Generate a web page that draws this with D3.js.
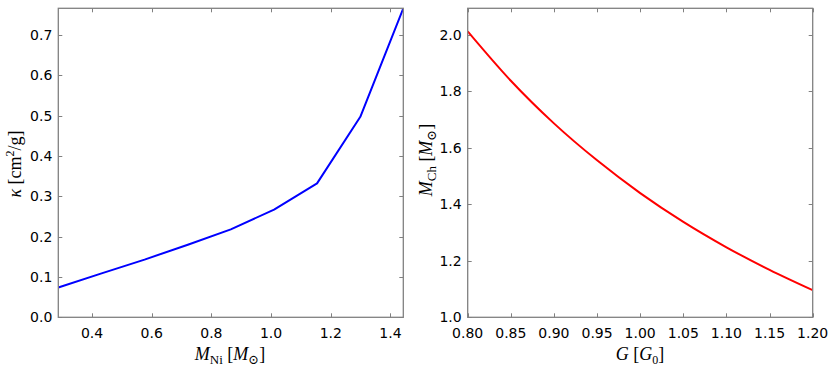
<!DOCTYPE html>
<html>
<head>
<meta charset="utf-8">
<script src="https://cdn.jsdelivr.net/npm/d3@7"></script>
<style>
  body { margin: 0; background: #fff; }
  svg { display: block; }
</style>
</head>
<body>
<div id="chart"></div>
<script>
// left panel: opacity vs nickel mass
const nickelMass = [0.287, 0.432, 0.576, 0.721, 0.865, 1.010, 1.154, 1.299, 1.443];
const opacity = [0.074, 0.109, 0.143, 0.180, 0.218, 0.267, 0.332, 0.497, 0.766];
const nickelTicks = [0.4, 0.6, 0.8, 1.0, 1.2, 1.4];
const opacityTicks = [0.0, 0.1, 0.2, 0.3, 0.4, 0.5, 0.6, 0.7];

// right panel: Chandrasekhar mass vs G
const gravity = [0.80, 0.85, 0.90, 0.95, 1.00, 1.05, 1.10, 1.15, 1.20];
const chandraMass = [2.013, 1.838, 1.687, 1.556, 1.440, 1.338, 1.248, 1.168, 1.096];
const gravityTicks = [0.80, 0.85, 0.90, 0.95, 1.00, 1.05, 1.10, 1.15, 1.20];
const chandraTicks = [1.0, 1.2, 1.4, 1.6, 1.8, 2.0];

const WIDTH = 830;
const HEIGHT = 367;
const PLOT_TOP = 8.3;
const PLOT_BOTTOM = 317.3;
const TICK_LEN = 4;
const SPINE_COLOR = '#808080';
const TICK_FONT = '"DejaVu Sans", sans-serif';
const LABEL_FONT = '"Liberation Serif", "DejaVu Serif", serif';

const svg = d3.select('#chart')
  .append('svg')
  .attr('width', WIDTH)
  .attr('height', HEIGHT);

function drawPanel(opts) {
  const x = d3.scaleLinear().domain(opts.xDomain).range([opts.left, opts.right]);
  const y = d3.scaleLinear().domain(opts.yDomain).range([PLOT_BOTTOM, PLOT_TOP]);
  const g = svg.append('g');

  // inward ticks on all four sides
  const ticks = g.append('g').attr('stroke', SPINE_COLOR).attr('stroke-width', 1);
  opts.xTicks.forEach((t) => {
    const px = Math.round(x(t)) + 0.5;
    ticks.append('line').attr('x1', px).attr('x2', px).attr('y1', PLOT_BOTTOM).attr('y2', PLOT_BOTTOM - TICK_LEN);
    ticks.append('line').attr('x1', px).attr('x2', px).attr('y1', PLOT_TOP).attr('y2', PLOT_TOP + TICK_LEN);
  });
  opts.yTicks.forEach((t) => {
    const py = Math.round(y(t)) + 0.5;
    ticks.append('line').attr('x1', opts.left).attr('x2', opts.left + TICK_LEN).attr('y1', py).attr('y2', py);
    ticks.append('line').attr('x1', opts.right).attr('x2', opts.right - TICK_LEN).attr('y1', py).attr('y2', py);
  });

  // data line
  const clipId = 'clip-' + opts.id;
  g.append('clipPath').attr('id', clipId)
    .append('rect')
    .attr('x', opts.left).attr('y', PLOT_TOP - 1)
    .attr('width', opts.right - opts.left).attr('height', PLOT_BOTTOM - PLOT_TOP + 2);

  const line = d3.line()
    .x((d) => x(d[0]))
    .y((d) => y(d[1]))
    .curve(opts.curve);

  g.append('path')
    .datum(d3.zip(opts.xs, opts.ys))
    .attr('clip-path', `url(#${clipId})`)
    .attr('fill', 'none')
    .attr('stroke', opts.color)
    .attr('stroke-width', 2)
    .attr('stroke-linejoin', 'round')
    .attr('d', line);

  // frame
  g.append('rect')
    .attr('x', opts.left).attr('y', PLOT_TOP)
    .attr('width', opts.right - opts.left).attr('height', PLOT_BOTTOM - PLOT_TOP)
    .attr('fill', 'none')
    .attr('stroke', SPINE_COLOR)
    .attr('stroke-width', 1.3);

  // tick labels
  opts.xTicks.forEach((t) => {
    g.append('text')
      .attr('x', x(t))
      .attr('y', PLOT_BOTTOM + 21)
      .attr('text-anchor', 'middle')
      .attr('font-family', TICK_FONT)
      .attr('font-size', 14)
      .attr('fill', '#000')
      .text(opts.xFormat(t));
  });
  opts.yTicks.forEach((t) => {
    g.append('text')
      .attr('x', opts.left - 6)
      .attr('y', y(t) + 5)
      .attr('text-anchor', 'end')
      .attr('font-family', TICK_FONT)
      .attr('font-size', 14)
      .attr('fill', '#000')
      .text(opts.yFormat(t));
  });

  return g;
}

function addParts(textSel, parts) {
  parts.forEach((p) => {
    const ts = textSel.append('tspan').text(p.t);
    if (p.italic) ts.attr('font-style', 'italic');
    if (p.size) ts.attr('font-size', p.size);
    if (p.dy) ts.attr('dy', p.dy);
  });
}

// left panel
const left = drawPanel({
  id: 'left',
  left: 58.3, right: 403.3,
  xDomain: [0.287, 1.443], yDomain: [0, 0.766],
  xTicks: nickelTicks, yTicks: opacityTicks,
  xFormat: d3.format('.1f'), yFormat: d3.format('.1f'),
  xs: nickelMass, ys: opacity,
  color: '#0000ff', curve: d3.curveLinear,
});

const xLabelL = left.append('text')
  .attr('x', 230).attr('y', 360)
  .attr('text-anchor', 'middle')
  .attr('font-family', LABEL_FONT)
  .attr('font-size', 18);
addParts(xLabelL, [
  { t: 'M', italic: true },
  { t: 'Ni', size: 13, dy: 4 },
  { t: ' [', dy: -4 },
  { t: 'M', italic: true },
  { t: '\u2299', size: 13, dy: 4 },
  { t: ']', dy: -4 },
]);

const yLabelL = left.append('text')
  .attr('transform', 'translate(21,164) rotate(-90)')
  .attr('text-anchor', 'middle')
  .attr('font-family', LABEL_FONT)
  .attr('font-size', 18);
addParts(yLabelL, [
  { t: '\u03ba', italic: true },
  { t: ' [cm' },
  { t: '2', size: 12, dy: -7 },
  { t: '/g]', dy: 7 },
]);

// right panel
const right = drawPanel({
  id: 'right',
  left: 467.7, right: 812.7,
  xDomain: [0.8, 1.2], yDomain: [1.0, 2.0946],
  xTicks: gravityTicks, yTicks: chandraTicks,
  xFormat: d3.format('.2f'), yFormat: d3.format('.1f'),
  xs: gravity, ys: chandraMass,
  color: '#ff0000', curve: d3.curveMonotoneX,
});

const xLabelR = right.append('text')
  .attr('x', 640).attr('y', 360)
  .attr('text-anchor', 'middle')
  .attr('font-family', LABEL_FONT)
  .attr('font-size', 18);
addParts(xLabelR, [
  { t: 'G', italic: true },
  { t: ' [' },
  { t: 'G', italic: true },
  { t: '0', size: 12, dy: 4 },
  { t: ']', dy: -4 },
]);

const yLabelR = right.append('text')
  .attr('transform', 'translate(432,160) rotate(-90)')
  .attr('text-anchor', 'middle')
  .attr('font-family', LABEL_FONT)
  .attr('font-size', 18);
addParts(yLabelR, [
  { t: 'M', italic: true },
  { t: 'Ch', size: 13, dy: 4 },
  { t: ' [', dy: -4 },
  { t: 'M', italic: true },
  { t: '\u2299', size: 13, dy: 4 },
  { t: ']', dy: -4 },
]);
</script>
</body>
</html>
